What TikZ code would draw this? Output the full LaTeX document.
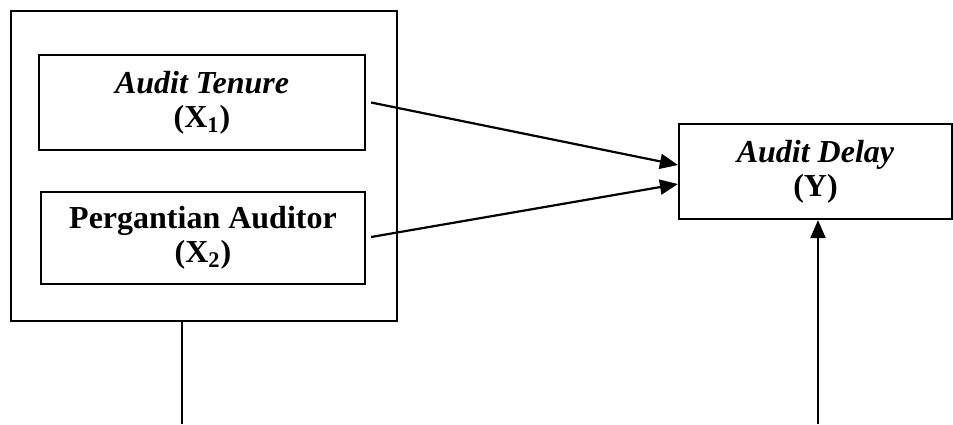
\documentclass[tikz,border=0pt]{standalone}
\usepackage{fontspec}
\setmainfont{Liberation Serif}
\usetikzlibrary{arrows.meta}

\tikzset{
    var/.style={draw,line width=1.1pt,align=center,inner sep=0pt,
        font=\fontsize{16}{17}\selectfont\bfseries},
    link/.style={line width=1.1pt,-{Triangle[length=9pt,width=7.5pt]}}
}

\begin{document}
\begin{tikzpicture}[x=0.5pt,y=-0.5pt]
    \useasboundingbox (0,0) rectangle (953,424);

    % Group of X
    \node (grp) [var,minimum width=193pt,minimum height=155pt] at (204,166) {};

    % Variables
    \node (x1) [var,minimum width=163pt,minimum height=47.5pt] at (202,102.5)
        {\textit{Audit Tenure}\\(X\textsubscript{1})};
    \node (x2) [var,minimum width=162pt,minimum height=46pt] at (203,238)
        {Pergantian Auditor\\(X\textsubscript{2})};
    \node (y) [var,minimum width=136.5pt,minimum height=47.5pt] at (815.5,171.5)
        {\textit{Audit Delay}\\(Y)};

    % Helper ends at the bottom (imaginary)
    \coordinate (bl) at (182,424);
    \coordinate (br) at (818,424);

    % Links
    \draw [link] ([xshift=2.5pt]x1.east) -- ([yshift=3.25pt]y.west);
    \draw [link] ([xshift=2.5pt,yshift=0.5pt]x2.east) -- ([yshift=-6.25pt]y.west);

    \draw [line width=1.1pt] (bl |- grp.south) -- (bl);
    \draw [link] (br) -- (br |- y.south);
\end{tikzpicture}
\end{document}
